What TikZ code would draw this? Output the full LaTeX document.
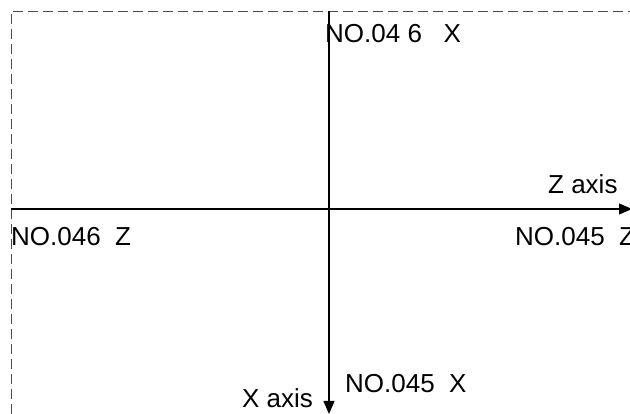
\documentclass[tikz,border=0pt]{standalone}
\usepackage{fontspec}
\setmainfont{Liberation Sans}
\usetikzlibrary{arrows.meta}
\begin{document}
\begin{tikzpicture}[x=1pt,y=-1pt,
  lbl/.style={anchor=base west,inner sep=0pt,font=\fontsize{26}{30}\selectfont},
  axisline/.style={line width=1.1pt,-{Triangle[length=13pt,width=11pt]}},
  frameline/.style={line width=0.9pt,dash pattern=on 10pt off 5pt,black!70}]
\useasboundingbox (0,0) rectangle (630,414);
\coordinate (tl) at (11,11);
\coordinate (tr) at (630,11);
\coordinate (bl) at (11,414);
\draw[frameline] (bl) -- (tl) -- (tr);
\coordinate (zs) at (11,209);
\coordinate (ze) at (632,209);
\coordinate (xs) at (329,11);
\coordinate (xe) at (329,414);
\draw[axisline] (zs) -- (ze);
\draw[axisline] (xs) -- (xe);
\node[lbl] (n46x) at (325,43) {NO.04 6\hspace{0.834em}X};
\node[lbl] (zax) at (548,194) {Z axis};
\node[lbl] (n45z) at (515,246) {NO.045\hspace{0.556em}Z};
\node[lbl] (n46z) at (11,246) {NO.046\hspace{0.556em}Z};
\node[lbl] (xax) at (242,408) {X axis};
\node[lbl] (n45x) at (345,393) {NO.045\hspace{0.556em}X};
\end{tikzpicture}
\end{document}
